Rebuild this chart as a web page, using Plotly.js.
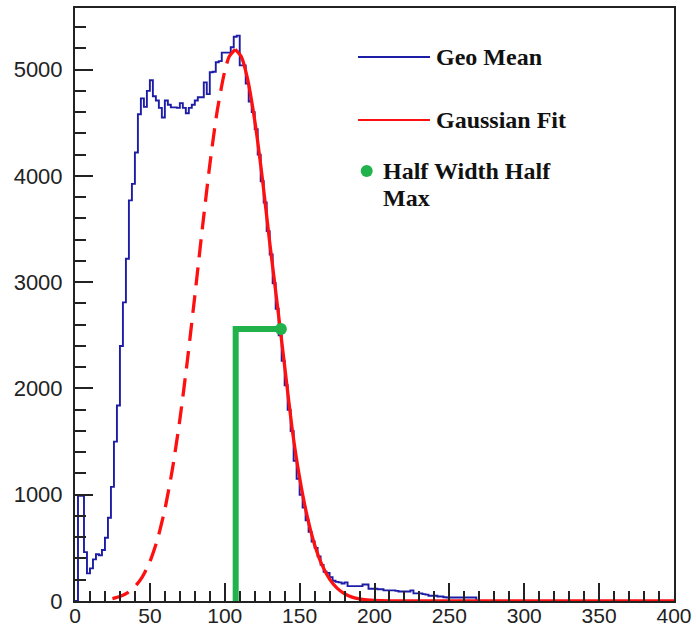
<!DOCTYPE html>
<html>
<head>
<meta charset="utf-8">
<script src="https://cdn.plot.ly/plotly-3.0.1.min.js"></script>
<style>html,body{margin:0;padding:0;background:#fff;}#chart{width:696px;height:631px;}</style>
</head>
<body>
<div id="chart"></div>
<script>
// Histogram "Geo Mean": bins of width 2 starting at 0 (counts)
var histStart = 0;
var histBinWidth = 2;
var geoMeanCounts = [
  0, 990, 990, 460, 260, 307, 392, 440, 430, 480,
  595, 783, 1074, 1500, 1840, 2400, 2810, 3220, 3770, 3925,
  4220, 4580, 4730, 4650, 4800, 4900, 4750, 4710, 4640, 4550,
  4710, 4670, 4645, 4645, 4640, 4685, 4640, 4590, 4640, 4670,
  4710, 4740, 4740, 4880, 4770, 4975, 4980, 5070, 5080, 5160,
  5160, 5160, 5210, 5310, 5320, 5040, 5040, 4870, 4700, 4600,
  4440, 4200, 3950, 3750, 3480, 3260, 2990, 2750, 2500, 2260,
  2030, 1800, 1600, 1320, 1150, 1000, 880, 760, 650, 560,
  500, 420, 340, 275, 265, 225, 190, 180, 175, 165,
  175, 140, 140, 140, 140, 140, 155, 155, 115, 115,
  115, 110, 110, 100, 100, 100, 100, 95, 90, 90,
  90, 90, 100, 72, 72, 72, 65, 60, 50, 50,
  50, 42, 42, 35, 33, 33, 33, 33, 33, 33,
  33, 33, 33, 33, 0
];

// Gaussian fit curve, left (dashed) part
var fitLeftX = [25, 30, 35, 40, 45, 50, 55, 60, 65, 70, 75, 80, 85, 90, 95, 100, 103, 107];
var fitLeftY = [22, 42, 77, 135, 228, 370, 576, 861, 1237, 1705, 2257, 2869, 3502, 4103, 4616, 4987, 5123, 5190];

// Gaussian fit curve, right (solid) part
var fitRightX = [107, 111, 115, 120, 125, 130, 135, 140, 145, 150, 155, 160, 165, 170, 175, 180, 185, 190, 195, 200, 210, 220, 250, 300, 350, 400];
var fitRightY = [5190, 5123, 4927, 4524, 3989, 3376, 2800, 2210, 1620, 1160, 800, 529, 337, 206, 121, 68, 37, 19, 10, 5, 1, 0, 0, 0, 0, 0];

// Half width half max construction
var hwhmX = [107.3, 107.3, 137.5];
var hwhmY = [0, 2560, 2560];

// Axis ticks
var xTickVals = [0, 50, 100, 150, 200, 250, 300, 350, 400];
var yTickVals = [0, 1000, 2000, 3000, 4000, 5000];

// Legend labels
var legendLabels = ["Geo Mean", "Gaussian Fit", "Half Width Half<br>Max"];

var blue = '#1c1ca6', red = '#ff1010', green = '#21b24b';

var histX = geoMeanCounts.map(function (_, i) { return histStart + i * histBinWidth; });
histX.push(histStart + geoMeanCounts.length * histBinWidth);
var histY = geoMeanCounts.slice();
histY.push(0);

var traces = [
  { x: histX, y: histY, type: 'scatter', mode: 'lines', line: { color: blue, width: 1.9, shape: 'hv' }, hoverinfo: 'skip' },
  { x: fitLeftX, y: fitLeftY, type: 'scatter', mode: 'lines', line: { color: red, width: 3.3, dash: '18px,10px', shape: 'spline', smoothing: 0.6 } },
  { x: fitRightX, y: fitRightY, type: 'scatter', mode: 'lines', line: { color: red, width: 3.3, shape: 'spline', smoothing: 0.6 } },
  { x: hwhmX, y: hwhmY, type: 'scatter', mode: 'lines', line: { color: green, width: 6 } },
  { x: [hwhmX[2]], y: [hwhmY[2]], type: 'scatter', mode: 'markers', marker: { color: green, size: 12 }, cliponaxis: false }
];

var axisCommon = {
  ticks: 'inside', ticklen: 18, tickwidth: 2, tickcolor: '#222',
  showline: true, linewidth: 2, linecolor: '#222', mirror: true,
  showgrid: false, zeroline: false, automargin: false,
  tickfont: { family: 'Liberation Sans, Arial, sans-serif', size: 22, color: '#222' }
};

var layout = {
  width: 696, height: 631,
  margin: { l: 75, r: 22, t: 8, b: 30, pad: 0 },
  paper_bgcolor: '#fff', plot_bgcolor: '#fff',
  showlegend: false,
  xaxis: Object.assign({}, axisCommon, {
    range: [0, 400], tickmode: 'array', tickvals: xTickVals, ticktext: xTickVals.map(String),
    ticklabelstandoff: -5,
    tickfont: { family: 'Liberation Sans, Arial, sans-serif', size: 21, color: '#222' },
    minor: { dtick: 10, tick0: 0, ticks: 'inside', ticklen: 10, tickwidth: 2, tickcolor: '#222', showgrid: false }
  }),
  yaxis: Object.assign({}, axisCommon, {
    range: [0, 5580], tickmode: 'array', tickvals: yTickVals, ticktext: yTickVals.map(String),
    ticklabelstandoff: 6,
    minor: { dtick: 200, tick0: 0, ticks: 'inside', ticklen: 11, tickwidth: 2, tickcolor: '#222', showgrid: false }
  })
};

var legendFont = { family: 'Liberation Serif, Times New Roman, serif', size: 24, color: '#111' };
var hwhmLines = legendLabels[2].split('<br>');

layout.shapes = [
  { type: 'line', xref: 'paper', yref: 'paper', x0: 0.4725, x1: 0.5927, y0: 0.9174, y1: 0.9174, line: { color: blue, width: 1.8 } },
  { type: 'line', xref: 'paper', yref: 'paper', x0: 0.4725, x1: 0.5927, y0: 0.8111, y1: 0.8111, line: { color: red, width: 2 } },
  { type: 'circle', xref: 'paper', yref: 'paper', xsizemode: 'pixel', ysizemode: 'pixel',
    xanchor: 0.487, yanchor: 0.7251, x0: -6, x1: 6, y0: -6, y1: 6,
    fillcolor: green, line: { color: green, width: 0 } }
];
layout.annotations = [
  { xref: 'paper', yref: 'paper', x: 0.600, y: 0.9174, xanchor: 'left', yanchor: 'middle', showarrow: false,
    text: '<b>' + legendLabels[0] + '</b>', font: legendFont },
  { xref: 'paper', yref: 'paper', x: 0.600, y: 0.8111, xanchor: 'left', yanchor: 'middle', showarrow: false,
    text: '<b>' + legendLabels[1] + '</b>', font: legendFont },
  { xref: 'paper', yref: 'paper', x: 0.511, y: 0.7251, xanchor: 'left', yanchor: 'middle', showarrow: false,
    text: '<b>' + hwhmLines[0] + '</b>', font: legendFont },
  { xref: 'paper', yref: 'paper', x: 0.511, y: 0.6796, xanchor: 'left', yanchor: 'middle', showarrow: false,
    text: '<b>' + hwhmLines[1] + '</b>', font: legendFont }
];

Plotly.newPlot('chart', traces, layout, { displayModeBar: false, staticPlot: true });
</script>
</body>
</html>
